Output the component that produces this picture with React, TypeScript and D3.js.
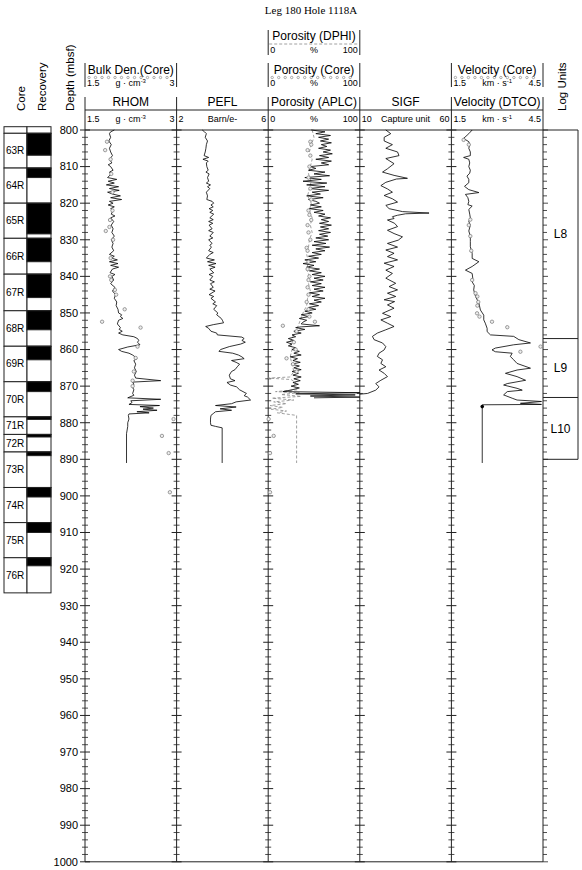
import React from 'react';
import * as d3 from 'd3';

const titleText = 'Leg 180 Hole 1118A';
const depthTicks = d3.range(800, 1001, 10);
const minorTicks = d3.range(800, 1001, 2);

const coreNames = ['', '63R','64R','65R','66R','67R','68R','69R','70R','71R','72R','73R','74R','75R','76R'];
const coreTops = [799.1, 800.9, 810.4, 820.0, 829.6, 839.4, 849.4, 859.1, 868.8, 878.4, 883.2, 888.0, 897.7, 907.3, 916.9];
const coreBottoms = [800.9, 810.4, 820.0, 829.6, 839.4, 849.4, 859.1, 868.8, 878.4, 883.2, 888.0, 897.7, 907.3, 916.9, 926.5];
const coreRecBottoms = [799.1, 806.9, 813.0, 828.4, 836.0, 845.8, 854.6, 862.8, 871.5, 879.1, 883.9, 889.0, 900.3, 910.0, 919.1];

const unitNames = ['L8', 'L9', 'L10'];
const unitTops = [800, 857, 873.1];
const unitBottoms = [857, 873.1, 890];

// [depth, value]
const rhom: [number, number][] = [
[800.0,1.98],[800.5,1.92],[801,1.90],[802,1.92],[803,1.89],[804,1.93],[805,1.90],[806,1.92],[807,1.95],[808,1.90],[809,1.94],[809.5,1.88],[810,1.92],[811,1.96],[811.5,1.90],[812,1.93],[813,1.87],[813.5,2.02],[814,1.88],[814.5,1.98],[815,1.85],[815.5,2.05],[816,1.90],[816.5,2.06],[817,1.87],[817.5,1.95],[818,2.08],[818.5,1.92],[819,2.10],[819.5,1.90],[820,1.96],[820.5,1.88],[821,1.98],[821.5,1.92],[822,1.96],[823,1.93],[823.5,1.99],[824,1.92],[825,1.97],[826,1.93],[827,1.96],[828,1.94],[829,1.98],[830,1.93],[831,1.96],[832,1.94],[833,1.97],[834,1.90],[834.5,1.98],[835,1.93],[835.5,2.03],[836,1.90],[836.5,2.04],[837,1.92],[837.5,2.05],[838,1.95],[839,1.91],[839.5,1.99],[840,1.94],[841,1.97],[842,1.92],[843,1.99],[844,1.95],[845,2.00],[846,1.98],[847,2.02],[848,2.01],[849,2.04],[850,2.05],[850.5,2.10],[851,2.08],[851.5,2.12],[852,2.05],[853,2.03],[854,2.08],[854.5,2.06],[855,2.11],[855.5,2.05],[856,2.12],[856.5,2.30],[857,2.36],[857.5,2.38],[858,2.36],[858.7,2.40],[859.3,2.20],[860,2.05],[860.5,2.10],[861,2.22],[861.5,2.28],[862,2.32],[862.5,2.35],[863,2.30],[864,2.33],[865,2.31],[866,2.34],[867,2.31],[867.8,2.33],[868.5,2.74],[868.9,2.28],[869.5,2.30],[870,2.27],[871,2.30],[872,2.28],[872.5,2.30],[873.2,2.20],[873.6,2.74],[874.0,2.25],[874.5,2.27],[875.0,2.22],[875.3,2.72],[875.6,2.40],[876,2.62],[876.3,2.45],[876.6,2.68],[877,2.35],[877.3,2.55],[877.6,2.22],[878,2.21],[879,2.22],[880,2.20],[881,2.20],[882,2.19],[883,2.18],[891,2.18]
];
const rhomCore: [number, number][] = [
[803.2,1.86],[805.5,1.83],[808,1.92],[812,1.93],[817,1.95],[822,1.95],[824.6,1.91],[826.5,1.90],[827.6,1.84],[830,1.96],[835,1.92],[840,1.91],[841,1.93],[843.7,1.99],[845,2.01],[849,2.15],[852.4,1.78],[854,2.41],[859.2,2.36],[862.3,2.33],[866,2.30],[868.5,2.28],[870,2.28],[879,2.95],[883.6,2.76],[888.3,2.87],[899,2.89]
];

const pefl: [number, number][] = [
[800,3.12],[800.5,3.22],[801,3.30],[802,3.25],[803,3.35],[804,3.30],[805,3.28],[806,3.25],[807,3.20],[807.5,3.40],[808,3.15],[808.5,3.38],[809,3.30],[810,3.32],[811,3.38],[811.5,3.28],[812,3.42],[813,3.35],[814,3.40],[814.5,3.30],[815,3.48],[815.5,3.35],[816,3.45],[817,3.30],[818,3.35],[819,3.32],[819.5,3.55],[820,3.62],[820.5,3.50],[821,3.60],[821.5,3.42],[822,3.58],[822.5,3.45],[823,3.62],[824,3.45],[824.5,3.60],[825,3.40],[825.5,3.58],[826,3.42],[827,3.55],[827.5,3.40],[828,3.60],[829,3.45],[829.5,3.58],[830,3.40],[831,3.55],[831.5,3.45],[832,3.52],[833,3.40],[833.5,3.60],[834,3.45],[835,3.30],[835.5,3.65],[836,3.35],[836.5,3.72],[837,3.40],[837.5,3.68],[838,3.45],[839,3.62],[839.5,3.42],[840,3.58],[841,3.45],[841.5,3.65],[842,3.48],[843,3.60],[843.5,3.45],[844,3.68],[845,3.42],[845.5,3.62],[846,3.50],[847,3.70],[847.5,3.58],[848,3.75],[849,3.62],[850,3.80],[850.5,3.75],[851,3.85],[851.5,3.95],[852,4.00],[852.7,4.05],[853.2,3.60],[853.7,3.27],[854.2,3.40],[855,3.50],[855.5,3.75],[856,3.78],[856.6,4.85],[857,4.95],[857.5,4.85],[858,5.00],[858.5,4.80],[859.2,4.30],[860,3.92],[860.5,3.85],[861,4.45],[861.5,4.70],[862,4.85],[862.5,4.95],[863,4.40],[863.5,4.60],[864,4.75],[864.7,4.65],[865.5,4.55],[866,4.40],[867,4.30],[868,4.35],[868.5,4.55],[869,4.20],[869.7,4.35],[870.2,4.62],[871,4.75],[871.5,4.90],[872,5.05],[872.6,4.95],[873,5.10],[873.8,5.23],[874.3,4.60],[874.8,4.40],[875.3,3.70],[875.7,4.60],[876.2,3.90],[876.6,4.40],[877,3.70],[877.5,3.60],[878,3.50],[879,3.48],[880,3.48],[880.7,3.50],[881,3.70],[881.4,3.99],[891,3.99]
];

const aplc: [number, number][] = [
[800,47],[800.5,62],[801,52],[801.5,68],[802,55],[802.5,66],[803,57],[803.5,69],[804,58],[804.5,64],[805,55],[805.5,68],[806,60],[806.5,70],[807,56],[807.5,66],[808,52],[808.5,69],[809,58],[809.5,66],[810,46],[810.5,52],[811,44],[811.5,62],[812,50],[812.5,67],[813,40],[813.5,58],[814,38],[814.5,64],[815,42],[815.5,62],[816,45],[816.5,66],[817,48],[817.5,57],[818,42],[818.5,60],[819,44],[819.5,52],[820,56],[820.5,46],[821,58],[821.5,45],[822,60],[822.5,50],[823,62],[823.5,55],[824,68],[824.5,58],[825,66],[825.5,56],[826,69],[826.5,57],[827,66],[827.5,55],[828,68],[828.5,56],[829,65],[829.5,52],[830,66],[830.5,50],[831,63],[831.5,48],[832,67],[832.5,52],[833,62],[833.5,48],[834,58],[834.5,44],[835,55],[835.5,40],[836,52],[836.5,38],[837,50],[837.5,42],[838,56],[838.5,45],[839,58],[839.5,48],[840,62],[840.5,50],[841,60],[841.5,46],[842,58],[842.5,48],[843,62],[843.5,50],[844,60],[844.5,45],[845,56],[845.5,48],[846,62],[846.5,50],[847,58],[847.5,45],[848,55],[848.5,44],[849,52],[849.5,40],[850,48],[850.5,36],[851,44],[851.5,34],[852,42],[852.5,38],[853,36],[853.5,56],[853.8,36],[854,30],[854.5,40],[855,28],[855.5,36],[856,26],[856.5,30],[857,22],[857.5,28],[858,20],[858.5,26],[859,22],[859.5,30],[860,26],[860.5,34],[861,28],[861.5,36],[862,24],[862.5,32],[863,27],[863.5,35],[864,25],[864.5,34],[865,28],[865.5,36],[866,26],[866.5,33],[867,27],[867.5,36],[868,28],[868.5,35],[869,27],[869.5,33],[870,25],[870.5,34],[871,26],[871.5,16],[871.8,100],[872.1,30],[872.4,95],[872.7,46],[873.0,100],[873.2,50]
];

const dphi: [number, number][] = [
[800,48],[802,50],[804,47],[806,45],[808,48],[810,46],[812,44],[814,47],[816,45],[818,43],[820,47],[822,45],[824,48],[826,46],[828,48],[830,45],[832,44],[834,42],[836,44],[838,42],[840,45],[842,44],[844,46],[846,43],[848,42],[850,38],[852,35],[854,32],[856,28],[858,24],[860,26],[862,24],[864,26],[866,28],[867.5,24],[867.8,0],[868.2,25],[869,30],[870,28],[871,32],[871.5,8],[871.8,34],[872.3,14],[872.8,36],[873.3,4],[873.8,28],[874.3,6],[874.8,20],[875.3,2],[875.8,16],[876.3,3],[876.8,20],[877.3,10],[878,31],[891,31]
];

const porCore: [number, number][] = [
[803.2,46],[804,47],[805.5,43],[807,46],[810,45],[813,44],[816,46],[819,47],[822,44],[823.2,45],[824.6,47],[826,43],[828,44],[830,46],[832.2,42],[833,43],[836,44],[838,43],[840,45],[841,44],[843,43],[845,44],[847,42],[849,44],[851,45],[852.4,51],[853.5,16],[855,31],[858,28],[860,30],[862.4,20],[864,27],[866,31],[879,0.5],[883.6,6],[888.3,2],[899,2]
];

const sigf: [number, number][] = [
[800,24.2],[801,26.9],[802,23.3],[803,23.3],[804,27.8],[805,24.2],[806,30.6],[807,31.4],[807.8,24.2],[809.2,28.7],[810.6,25.1],[811.5,22.4],[812.4,28.7],[813.2,36.0],[813.4,30],[814.3,24.2],[815.2,21.5],[816.1,25.1],[817,27.8],[817.9,23.3],[818.8,27.8],[819.7,30.6],[820.6,24.2],[821.5,26],[822.3,33.3],[822.7,47.8],[822.9,35],[823.3,30.6],[823.7,27.8],[824.2,28.7],[824.6,25.1],[825.5,29],[826.4,30.6],[827.4,25.1],[828.3,28.7],[829.2,33.3],[830.1,31],[831,25.1],[832,30.6],[832.8,24.2],[833.7,28.7],[834.6,25.1],[835.5,30.6],[836.4,23.3],[837.3,28.7],[838.3,24.2],[839.2,27.8],[840.5,24.2],[841.9,29.6],[842.8,26],[843.7,30.6],[844.6,25.1],[845.5,29.6],[846.4,23.3],[846.9,29],[847.8,25.1],[848.7,28.7],[850.1,22.4],[851,26.9],[851.9,21.5],[852.8,25.1],[853.7,28.7],[854.6,24.2],[855.5,19.6],[856.4,16.9],[857.3,17.8],[858.2,22.4],[859.2,24.2],[860.1,23.3],[861,20.5],[861.9,19.6],[862.8,22.4],[863.8,21.5],[864.7,24.2],[865.6,20.5],[866.5,23.3],[867.4,25.1],[868.4,21.5],[869.3,18.7],[870.2,20.5],[871.1,18.7],[872,14.2],[872.2,10]
];

const dtco: [number, number][] = [
[800,2.18],[801,2.07],[802.3,1.90],[803.2,2.07],[804,2.10],[805,2.07],[806,2.12],[807,2.12],[807.5,1.90],[808,2.07],[809,2.10],[810,2.07],[811,2.12],[811.8,2.10],[812.6,2.01],[813.5,2.07],[814.4,2.07],[815.4,1.93],[816.3,2.07],[817.1,2.40],[817.6,1.96],[818.5,2.04],[819.5,2.07],[820.4,2.04],[820.8,2.18],[821.7,2.07],[823,2.10],[824,2.12],[825,2.07],[826,2.12],[827.6,2.07],[829,2.12],[830.5,2.12],[831.9,2.12],[833.7,2.18],[835.1,2.18],[836,2.40],[837.3,2.18],[838.3,1.96],[839.2,2.18],[840.5,2.20],[841.5,2.18],[842.5,2.25],[843.7,2.23],[845.5,2.29],[847.3,2.40],[849.2,2.45],[850.6,2.56],[851.9,2.56],[852.8,2.61],[854.2,2.67],[855.1,2.67],[856,2.78],[856.4,3.54],[857.3,3.71],[858.2,4.09],[858.7,3.54],[859.6,2.94],[860.1,2.83],[860.6,2.94],[861,3.49],[861.9,3.43],[862.8,3.54],[863.8,3.65],[865.1,4.09],[865.6,3.65],[866.5,3.27],[867.4,3.65],[868.4,3.93],[869.3,3.33],[869.7,3.21],[870.6,3.65],[871.1,3.82],[871.5,3.33],[872.4,3.21],[873.3,3.49],[873.8,3.65],[874.2,4.45],[874.7,3.76],[875.0,4.45],[875.1,2.51],[891,2.51]
];

const velCore: [number, number][] = [
[802.7,1.90],[804,2.07],[824.5,2.12],[826,2.07],[829,2.12],[833,2.15],[841,2.18],[844.6,2.29],[845.5,2.35],[847,2.38],[848,2.35],[850.1,2.34],[851,2.42],[852.4,2.83],[853.9,3.33],[859.2,4.42],[860.6,3.76]
];
const velCoreDark: [number, number][] = [[875.6,2.51]];

const trackTitles = ['RHOM', 'PEFL', 'Porosity (APLC)', 'SIGF', 'Velocity (DTCO)'];
const trackMin = ['1.5', '2', '0', '10', '1.5'];
const trackMax = ['3', '6', '100', '60', '4.5'];
const trackUnit = ['g · cm', 'Barn/e-', '%', 'Capture unit', 'km · s'];
const trackUnitSup = ['-3', '', '', '', '-1'];
const trackDomains: [number, number][] = [[1.5, 3], [2, 6], [0, 100], [10, 60], [1.5, 4.5]];

const FONT = '"Liberation Sans", Arial, Helvetica, sans-serif';
const INK = '#222';

export default function App() {
  const W = 582, H = 870;
  const y = d3.scaleLinear().domain([800, 1000]).range([130, 861.8]);
  const edges = [85, 176.6, 268.2, 359.8, 451.4, 543];
  const luRight = 578;
  const xs = trackDomains.map((dom, i) => d3.scaleLinear().domain(dom).range([edges[i], edges[i + 1]]));
  const line = (sx: d3.ScaleLinear<number, number>) =>
    d3.line<[number, number]>().x(d => sx(d[1])).y(d => y(d[0]));

  const scaleRow = (i: number, baseY: number, min: string, unit: string, sup: string, max: string) => {
    const x0 = edges[i], x1 = edges[i + 1];
    return (
      <g key={'s' + i + '-' + baseY} fontSize={9} fontFamily={FONT} fill="#000">
        <text x={x0 + 2} y={baseY}>{min}</text>
        <text x={(x0 + x1) / 2} y={baseY} textAnchor="middle">{unit}{sup ? <tspan fontSize={6} dy={-3.5}>{sup}</tspan> : null}</text>
        <text x={x1 - 2} y={baseY} textAnchor="end">{max}</text>
      </g>
    );
  };

  const circleLegend = (i: number, yy: number) => {
    const x0 = edges[i] + 4, x1 = edges[i + 1] - 4;
    const pts = d3.range(x0, x1, 6.5);
    return pts.map((px, k) => <circle key={'cl' + i + k} cx={px} cy={yy} r={1.2} fill="none" stroke="#888" strokeWidth={0.7} />);
  };

  const coreMarks = (data: [number, number][], sx: d3.ScaleLinear<number, number>, key: string) =>
    data.map((d, k) => <circle key={key + k} cx={sx(d[1])} cy={y(d[0])} r={1.7} fill="#eee" stroke="#777" strokeWidth={0.7} />);

  return (
    <svg width={W} height={H} style={{ position: 'absolute', left: 0, top: 0, background: '#fff' }} fontFamily={FONT}>
      <rect x={0} y={0} width={W} height={H} fill="#fff" />
      <text x={311} y={14} textAnchor="middle" fontFamily='"Liberation Serif", "Times New Roman", serif' fontSize={11}>{titleText}</text>

      {/* left header rotated labels */}
      <text transform="translate(25,111) rotate(-90)" fontSize={11.5}>Core</text>
      <text transform="translate(45.5,111) rotate(-90)" fontSize={11.5}>Recovery</text>
      <text transform="translate(74,111) rotate(-90)" fontSize={11.5}>Depth (mbsf)</text>
      <text transform="translate(565.5,111) rotate(-90)" fontSize={11.5}>Log Units</text>

      <g stroke={INK} strokeWidth={1}>
        <line x1={edges[2]} x2={edges[2]} y1={30} y2={55} />
        <line x1={edges[3]} x2={edges[3]} y1={30} y2={55} />
        <line x1={edges[0]} x2={edges[0]} y1={63} y2={87} />
        <line x1={edges[1]} x2={edges[1]} y1={63} y2={87} />
        <line x1={edges[2]} x2={edges[2]} y1={63} y2={87} />
        <line x1={edges[3]} x2={edges[3]} y1={63} y2={87} />
        <line x1={edges[4]} x2={edges[4]} y1={63} y2={87} />
        <line x1={edges[5]} x2={edges[5]} y1={63} y2={87} />
        {edges.map((e, i) => <line key={'hv' + i} x1={e} x2={e} y1={97} y2={130} />)}
        <line x1={edges[0]} x2={edges[5]} y1={110} y2={110} />
      </g>
      <text x={(edges[2] + edges[3]) / 2} y={40} textAnchor="middle" fontSize={12}>Porosity (DPHI)</text>
      <line x1={edges[2] + 1} x2={edges[3] - 1} y1={44} y2={44} stroke="#888" strokeWidth={0.8} strokeDasharray="3,2" />
      {scaleRow(2, 53, '0', '%', '', '100')}

      <text x={(edges[0] + edges[1]) / 2} y={74} textAnchor="middle" fontSize={12}>Bulk Den.(Core)</text>
      <text x={(edges[2] + edges[3]) / 2} y={74} textAnchor="middle" fontSize={12}>Porosity (Core)</text>
      <text x={(edges[4] + edges[5]) / 2} y={74} textAnchor="middle" fontSize={12}>Velocity (Core)</text>
      {circleLegend(0, 77.5)}
      {circleLegend(2, 77.5)}
      {circleLegend(4, 77.5)}
      {scaleRow(0, 86, '1.5', 'g · cm', '-3', '3')}
      {scaleRow(2, 86, '0', '%', '', '100')}
      {scaleRow(4, 86, '1.5', 'km · s', '-1', '4.5')}

      {trackTitles.map((t, i) => (
        <text key={'tt' + i} x={(edges[i] + edges[i + 1]) / 2} y={106} textAnchor="middle" fontSize={12}>{t}</text>
      ))}
      {trackTitles.map((t, i) => scaleRow(i, 122, trackMin[i], trackUnit[i], trackUnitSup[i], trackMax[i]))}

      {/* frame */}
      <g stroke={INK} strokeWidth={1}>
        <line x1={edges[0]} x2={luRight} y1={130} y2={130} />
        {edges.map((e, i) => <line key={'fv' + i} x1={e} x2={e} y1={130} y2={y(1000)} />)}
        <line x1={edges[0]} x2={edges[5]} y1={y(1000)} y2={y(1000)} />
        <line x1={luRight} x2={luRight} y1={130} y2={y(unitBottoms[unitBottoms.length - 1])} />
        {unitBottoms.map((d, i) => <line key={'lu' + i} x1={edges[5]} x2={luRight} y1={y(d)} y2={y(d)} />)}
        {edges.slice(0, 5).map((e, i) => (
          <g key={'tk' + i}>
            {minorTicks.map(d => {
              const major = d % 10 === 0;
              const L = major ? 5 : 3;
              return <line key={d} x1={e - L} x2={e + L} y1={y(d)} y2={y(d)} strokeWidth={major ? 1 : 0.8} />;
            })}
          </g>
        ))}
        {minorTicks.map(d => {
          const major = d % 10 === 0;
          return <line key={'r' + d} x1={edges[5]} x2={edges[5] + (major ? 5 : 4)} y1={y(d)} y2={y(d)} strokeWidth={0.8} />;
        })}
      </g>

      {depthTicks.map(d => (
        <text key={'dl' + d} x={78} y={y(d)} dy="0.35em" textAnchor="end" fontSize={11}>{d}</text>
      ))}

      {unitNames.map((n, i) => (
        <text key={'un' + i} x={(edges[5] + luRight) / 2} y={y((unitTops[i] + unitBottoms[i]) / 2)} dy="0.35em" textAnchor="middle" fontSize={12}>{n}</text>
      ))}

      {coreNames.map((n, i) => (
        <g key={'core' + i}>
          <rect x={4} y={y(coreTops[i])} width={23} height={y(coreBottoms[i]) - y(coreTops[i])} fill="#fff" stroke={INK} strokeWidth={1} />
          <rect x={27} y={y(coreTops[i])} width={24} height={y(coreBottoms[i]) - y(coreTops[i])} fill="#fff" stroke={INK} strokeWidth={1} />
          {coreRecBottoms[i] > coreTops[i] ? (
            <rect x={27} y={y(coreTops[i])} width={24} height={y(coreRecBottoms[i]) - y(coreTops[i])} fill="#000" stroke={INK} strokeWidth={1} />
          ) : null}
          {n ? <text x={6} y={y((coreTops[i] + coreBottoms[i]) / 2)} dy="0.35em" fontSize={10}>{n}</text> : null}
        </g>
      ))}

      <g fill="none" strokeLinejoin="round">
        <path d={line(xs[2])(dphi) || ''} stroke="#888" strokeWidth={0.8} strokeDasharray="3,2" />
        <path d={line(xs[0])(rhom) || ''} stroke="#000" strokeWidth={0.8} />
        <path d={line(xs[1])(pefl) || ''} stroke="#000" strokeWidth={0.8} />
        <path d={line(xs[2])(aplc) || ''} stroke="#000" strokeWidth={0.8} />
        <path d={line(xs[3])(sigf) || ''} stroke="#000" strokeWidth={0.8} />
        <path d={line(xs[4])(dtco) || ''} stroke="#000" strokeWidth={0.8} />
      </g>
      {coreMarks(rhomCore, xs[0], 'rc')}
      {coreMarks(porCore, xs[2], 'pc')}
      {coreMarks(velCore, xs[4], 'vc')}
      {velCoreDark.map((d, k) => <circle key={'vd' + k} cx={xs[4](d[1])} cy={y(d[0])} r={1.8} fill="#000" />)}
    </svg>
  );
}
